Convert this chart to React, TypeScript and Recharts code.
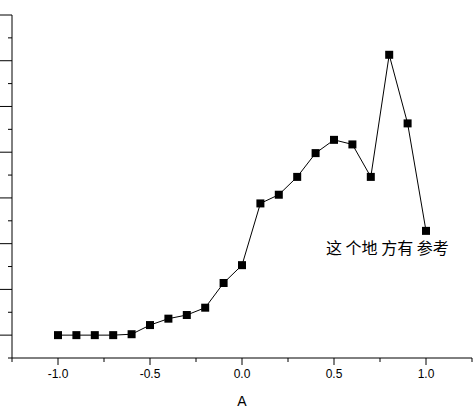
import React from "react";
import { Label, Line, LineChart, XAxis, YAxis } from "recharts";

const xValues = [
  -1.0, -0.9, -0.8, -0.7, -0.6, -0.5, -0.4, -0.3, -0.2, -0.1, 0.0, 0.1, 0.2,
  0.3, 0.4, 0.5, 0.6, 0.7, 0.8, 0.9, 1.0,
];
const yValues = [
  0, 0, 0, 0, 0.02, 0.22, 0.36, 0.44, 0.6, 1.14, 1.53, 2.88, 3.07, 3.46, 3.98,
  4.27, 4.17, 3.46, 6.13, 4.63, 2.28,
];
const xTicks = [
  -1.25, -1.0, -0.75, -0.5, -0.25, 0, 0.25, 0.5, 0.75, 1.0, 1.25,
];
const yTicks = [
  -0.5, 0, 0.5, 1, 1.5, 2, 2.5, 3, 3.5, 4, 4.5, 5, 5.5, 6, 6.5, 7,
];
const xAxisName = "A";
const note = "这 个地 方有 参考";

const data = xValues.map((x, i) => ({ x, y: yValues[i] }));

const FONT = "'Liberation Sans', Arial, sans-serif";

const isMajorX = (v: number) => Math.abs(v * 2 - Math.round(v * 2)) < 1e-6;
const isMajorY = (v: number) => Math.abs(v - Math.round(v)) < 1e-6;

const XTick = (props: any) => {
  const { x, y, payload } = props;
  const major = isMajorX(payload.value);
  const len = major ? 7 : 4;
  return (
    <g>
      <path d={`M${x},${y}V${y + len}`} stroke="#000" strokeWidth={1} fill="none" />
      {major && (
        <text
          x={x}
          y={y + 20}
          textAnchor="middle"
          fontFamily={FONT}
          fontSize={12}
          fill="#000"
          stroke="none"
        >
          {payload.value.toFixed(1)}
        </text>
      )}
    </g>
  );
};

const YTick = (props: any) => {
  const { x, y, payload } = props;
  const len = isMajorY(payload.value) ? 12 : 4;
  return <path d={`M${x},${y}H${x - len}`} stroke="#000" strokeWidth={1} fill="none" />;
};

const SquareDot = (props: any) => {
  const { cx, cy, index } = props;
  if (cx == null || cy == null) return <g key={index} />;
  return <rect key={index} x={cx - 4} y={cy - 4} width={8} height={8} fill="#000" />;
};

export default function App() {
  return (
    <div style={{ position: "absolute", left: 0, top: 0, width: 474, height: 409, background: "#fff" }}>
      <LineChart
        width={474}
        height={409}
        data={data}
        margin={{ top: 15, right: 2, left: 0, bottom: 0 }}
      >
        <XAxis
          dataKey="x"
          type="number"
          domain={[-1.25, 1.25]}
          ticks={xTicks}
          interval={0}
          height={51}
          tickSize={0}
          tickMargin={0}
          tickLine={false}
          tick={XTick}
          axisLine={{ stroke: "#000" }}
          allowDataOverflow
        >
          <Label
            value={xAxisName}
            position="insideBottom"
            offset={3}
            style={{ fontFamily: FONT, fontSize: 14, fill: "#000" }}
          />
        </XAxis>
        <YAxis
          type="number"
          domain={[-0.5, 7]}
          ticks={yTicks}
          interval={0}
          width={12}
          tickSize={0}
          tickMargin={0}
          tickLine={false}
          tick={YTick}
          axisLine={{ stroke: "#000" }}
          allowDataOverflow
        />
        <Line
          type="linear"
          dataKey="y"
          stroke="#000"
          strokeWidth={1}
          dot={<SquareDot />}
          activeDot={false}
          isAnimationActive={false}
        />
      </LineChart>
      <div
        style={{
          position: "absolute",
          left: 326,
          top: 238,
          fontFamily: "'Noto Sans CJK SC', sans-serif",
          fontSize: 16,
          lineHeight: "18px",
          color: "#000",
          whiteSpace: "pre",
        }}
      >
        {note}
      </div>
    </div>
  );
}
